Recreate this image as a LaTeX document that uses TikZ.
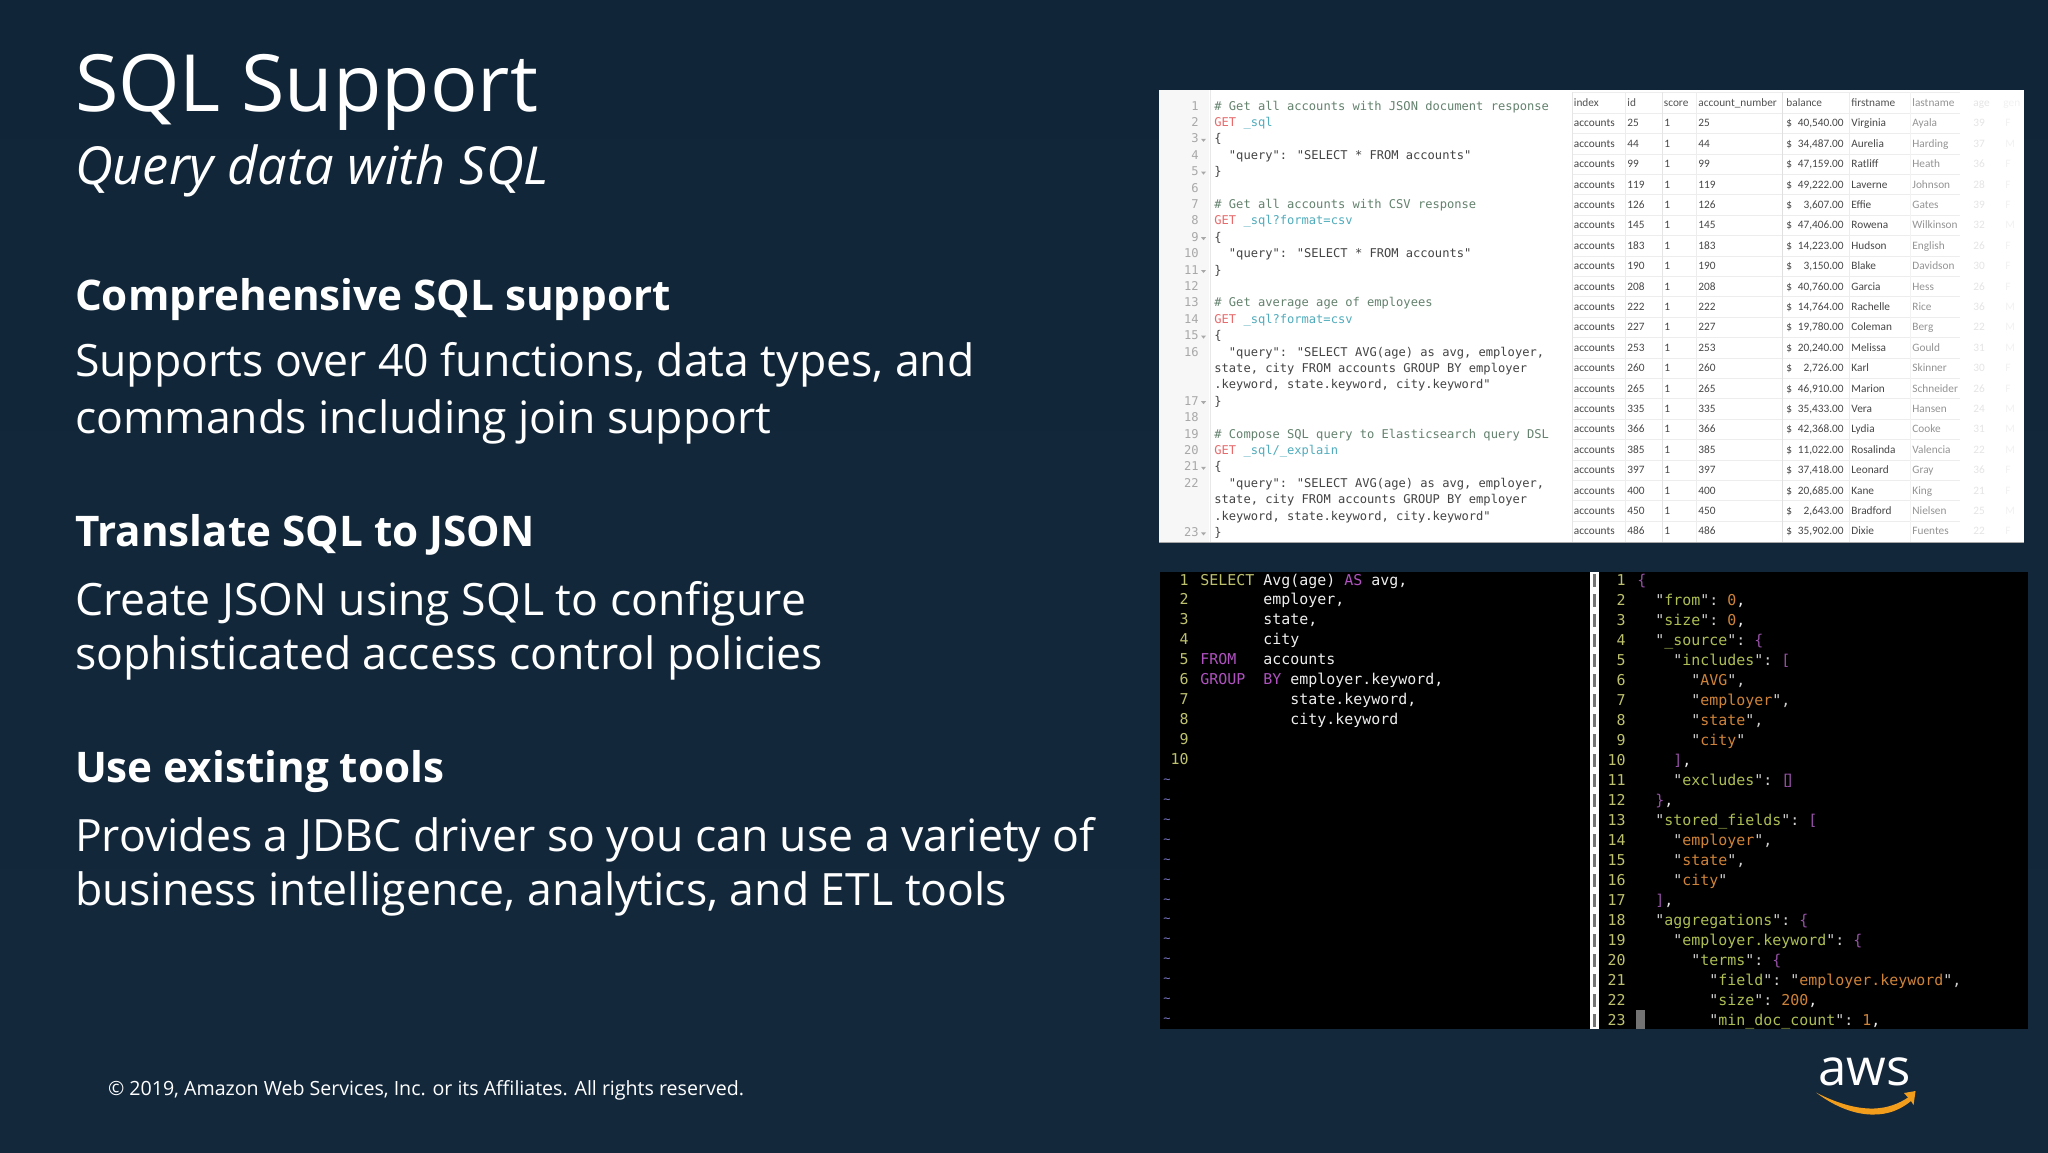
\documentclass[tikz,border=0pt]{standalone}
\usepackage{fontspec}
\setmainfont{Open Sans}
\newfontfamily\codefont{DejaVu Sans Mono}
\newfontfamily\tablefont{Carlito}
\definecolor{slidetop}{HTML}{102638}
\definecolor{slidebot}{HTML}{14283C}
\definecolor{lgcomment}{HTML}{64826E}
\definecolor{lgget}{HTML}{E86A6A}
\definecolor{lgurl}{HTML}{50ACBC}
\definecolor{lgtext}{HTML}{444444}
\definecolor{lgnum}{HTML}{A8A8A8}
\definecolor{dkyellow}{HTML}{BEC26E}
\definecolor{dkmag}{HTML}{B052C0}
\definecolor{dkwhite}{HTML}{EEEEEE}
\definecolor{dkkey}{HTML}{AEBE54}
\definecolor{dkval}{HTML}{CF8338}
\definecolor{dkbrace}{HTML}{9450A4}
\definecolor{dkquote}{HTML}{D0D0D0}
\definecolor{dktilde}{HTML}{7A78C8}
\definecolor{awsorange}{HTML}{F29D1C}
\newcounter{tn}
\newcommand\lgc[4]{\stepcounter{tn}\node[lightcode,text=#1] (lc\arabic{tn}) at ({1214+#2*7.27},{110+(#3-1)*16.4}) {#4};}
\newcommand\lgn[2]{\stepcounter{tn}\node[lightnum] (ln\arabic{tn}) at (1199,{110+(#1-1)*16.4}) {#2};}
\newcommand\lgf[1]{\fill[lgnum] (1201,{106+(#1-1)*16.4}) -- (1206,{106+(#1-1)*16.4}) -- (1203.5,{109+(#1-1)*16.4}) -- cycle;}
\newcommand\dkc[4]{\stepcounter{tn}\node[darkcode,text=#1] (dc\arabic{tn}) at ({1200+#2*9},{585+(#3-1)*19.95}) {#4};}
\newcommand\jsc[4]{\stepcounter{tn}\node[darkcode,text=#1] (jc\arabic{tn}) at ({1637+#2*9},{585+(#3-1)*20}) {#4};}
\begin{document}
\begin{tikzpicture}[x=0.5pt,y=-0.5pt,
  txt/.style={anchor=base west,inner sep=0pt,outer sep=0pt,text=white},
  titletxt/.style={txt,font=\fontsize{39.5}{40}\selectfont},
  subtxt/.style={txt,font=\fontsize{26.2}{27}\selectfont\itshape},
  headtxt/.style={txt,font=\fontsize{21.1}{22}\selectfont\bfseries},
  bodytxt/.style={txt,font=\fontsize{22.28}{23}\selectfont},
  foottxt/.style={txt,font=\fontsize{9.8}{11}\selectfont},
  lightcode/.style={anchor=base west,inner sep=0pt,font=\codefont\fontsize{6.04}{7}\selectfont},
  lightnum/.style={anchor=base east,inner sep=0pt,text=lgnum,font=\codefont\fontsize{6.04}{7}\selectfont},
  darkcode/.style={anchor=base west,inner sep=0pt,font=\codefont\fontsize{7.47}{8}\selectfont},
  darknum/.style={anchor=base east,inner sep=0pt,text=dkyellow,font=\codefont\fontsize{7.47}{8}\selectfont},
  celltxt/.style={anchor=base west,inner sep=0pt,font=\tablefont\fontsize{5.65}{6}\selectfont},
  cellnum/.style={celltxt,anchor=base east}]
\useasboundingbox (0,0) rectangle (2048,1152);
\shade[top color=slidetop,bottom color=slidebot] (-6,-6) rectangle (2054,1158);
% left column
\node[titletxt] (title) at (75,111) {SQL Support};
\node[subtxt] (subtitle) at (75,184) {Query data with SQL};
\node[headtxt] (h1) at (75,310) {Comprehensive SQL support};
\node[bodytxt] (b1a) at (75,376) {Supports over 40 functions, data types, and};
\node[bodytxt] (b1b) at (75,433) {commands including join support};
\node[headtxt] (h2) at (75,546) {Translate SQL to JSON};
\node[bodytxt] (b2a) at (75,615) {Create JSON using SQL to configure};
\node[bodytxt] (b2b) at (75,669) {sophisticated access control policies};
\node[headtxt] (h3) at (75,782) {Use existing tools};
\node[bodytxt] (b3a) at (75,851) {Provides a JDBC driver so you can use a variety of};
\node[bodytxt] (b3b) at (75,905) {business intelligence, analytics, and ETL tools};
\node[foottxt] (foot) at (108,1095) {© 2019, Amazon Web Services, Inc. or its Affiliates. All rights reserved.};
% logo
\node[txt,font=\fontsize{25.5}{27}\selectfont] (aws) at (1818,1085) {aws};
\fill[awsorange] (1816,1092.5) .. controls (1838,1104) and (1858,1109) .. (1874,1108.5) .. controls (1888,1108) and (1899,1103.5) .. (1908,1097.5) -- (1904,1093) -- (1915.5,1091) -- (1913.5,1105) -- (1911,1101) .. controls (1900,1110) and (1888,1114.5) .. (1874,1114.5) .. controls (1856,1115) and (1835,1107) .. (1816,1092.5) -- cycle;
% top panel
\fill[white] (1159,90) rectangle (2024,542);
\fill[black!3] (1159,90) rectangle (1209,542);
\draw[black!9,line width=0.4pt] (1210,90) -- (1210,542);
\draw[black!35,line width=0.4pt] (1159,542) -- (2024,542);
\foreach \n in {1,...,16} {\lgn{\n}{\n}}
\lgn{19}{17}\lgn{20}{18}\lgn{21}{19}\lgn{22}{20}\lgn{23}{21}\lgn{24}{22}\lgn{27}{23}
\foreach \n in {3,5,9,11,15,19,23,27} {\lgf{\n}}
\lgc{lgcomment}{0}{1}{\# Get all accounts with JSON document response}
\lgc{lgget}{0}{2}{GET}\lgc{lgurl}{4}{2}{\_sql}
\lgc{lgtext}{0}{3}{\{}
\lgc{lgtext}{2}{4}{"query": "SELECT * FROM accounts"}
\lgc{lgtext}{0}{5}{\}}
\lgc{lgcomment}{0}{7}{\# Get all accounts with CSV response}
\lgc{lgget}{0}{8}{GET}\lgc{lgurl}{4}{8}{\_sql?format=csv}
\lgc{lgtext}{0}{9}{\{}
\lgc{lgtext}{2}{10}{"query": "SELECT * FROM accounts"}
\lgc{lgtext}{0}{11}{\}}
\lgc{lgcomment}{0}{13}{\# Get average age of employees}
\lgc{lgget}{0}{14}{GET}\lgc{lgurl}{4}{14}{\_sql?format=csv}
\lgc{lgtext}{0}{15}{\{}
\lgc{lgtext}{2}{16}{"query": "SELECT AVG(age) as avg, employer,}
\lgc{lgtext}{0}{17}{state, city FROM accounts GROUP BY employer}
\lgc{lgtext}{0}{18}{.keyword, state.keyword, city.keyword"}
\lgc{lgtext}{0}{19}{\}}
\lgc{lgcomment}{0}{21}{\# Compose SQL query to Elasticsearch query DSL}
\lgc{lgget}{0}{22}{GET}\lgc{lgurl}{4}{22}{\_sql/\_explain}
\lgc{lgtext}{0}{23}{\{}
\lgc{lgtext}{2}{24}{"query": "SELECT AVG(age) as avg, employer,}
\lgc{lgtext}{0}{25}{state, city FROM accounts GROUP BY employer}
\lgc{lgtext}{0}{26}{.keyword, state.keyword, city.keyword"}
\lgc{lgtext}{0}{27}{\}}
% table grid
\foreach \n in {0,...,21} {\draw[black!7,line width=0.4pt] (1572,{92.8+\n*20.4}) -- (1960,{92.8+\n*20.4});}
\foreach \x/\s in {1572/10,1625/7,1662/10,1696/7,1782/12,1849/7,1910/5} {\draw[black!\s,line width=0.4pt] (\x,92) -- (\x,542);}
% table header
\node[celltxt,text=black!68] (th1) at (1573.5,106.5) {index};
\node[celltxt,text=black!68] (th2) at (1627,106.5) {id};
\node[celltxt,text=black!68] (th3) at (1663.5,106.5) {score};
\node[celltxt,text=black!68] (th4) at (1698,106.5) {account\_number};
\node[celltxt,text=black!68] (th5) at (1786,106.5) {balance};
\node[celltxt,text=black!68] (th6) at (1851,106.5) {firstname};
\node[celltxt,text=black!42] (th7) at (1912,106.5) {lastname};
\node[celltxt,text=black!10] (th8) at (1973,106.5) {age};
\node[celltxt,text=black!5] (th9) at (2003,106.5) {gen};
% table rows
\foreach \i/\b/\f/\l/\a/\g [count=\n] in {
 25/{40,540.00}/Virginia/Ayala/39/F,
 44/{34,487.00}/Aurelia/Harding/37/M,
 99/{47,159.00}/Ratliff/Heath/36/F,
 119/{49,222.00}/Laverne/Johnson/28/F,
 126/{3,607.00}/Effie/Gates/39/F,
 145/{47,406.00}/Rowena/Wilkinson/32/M,
 183/{14,223.00}/Hudson/English/26/F,
 190/{3,150.00}/Blake/Davidson/30/F,
 208/{40,760.00}/Garcia/Hess/26/F,
 222/{14,764.00}/Rachelle/Rice/36/M,
 227/{19,780.00}/Coleman/Berg/22/M,
 253/{20,240.00}/Melissa/Gould/31/M,
 260/{2,726.00}/Karl/Skinner/30/F,
 265/{46,910.00}/Marion/Schneider/26/F,
 335/{35,433.00}/Vera/Hansen/24/M,
 366/{42,368.00}/Lydia/Cooke/31/M,
 385/{11,022.00}/Rosalinda/Valencia/22/M,
 397/{37,418.00}/Leonard/Gray/36/F,
 400/{20,685.00}/Kane/King/21/F,
 450/{2,643.00}/Bradford/Nielsen/25/M,
 486/{35,902.00}/Dixie/Fuentes/22/F} {
  \pgfmathsetmacro{\yy}{106.5+\n*20.4}
  \node[celltxt,text=black!72] (ca\n) at (1573.5,\yy) {accounts};
  \node[celltxt,text=black!72] (cb\n) at (1627,\yy) {\i};
  \node[celltxt,text=black!72] (cc\n) at (1664,\yy) {1};
  \node[celltxt,text=black!72] (cd\n) at (1698,\yy) {\i};
  \node[celltxt,text=black!72] (ce\n) at (1786,\yy) {\$};
  \node[cellnum,text=black!72] (cf\n) at (1844,\yy) {\b};
  \node[celltxt,text=black!72] (cg\n) at (1851,\yy) {\f};
  \node[celltxt,text=black!42] (ch\n) at (1912,\yy) {\l};
  \node[celltxt,text=black!10] (ci\n) at (1973,\yy) {\a};
  \node[celltxt,text=black!5] (cj\n) at (2005,\yy) {\g};
}
% bottom panel
\fill[black] (1160,572) rectangle (2028,1029);
\fill[white] (1590,572) rectangle (1599,1029);
\foreach \n in {0,...,22} {\fill[black!55] (1592.8,{574+\n*20}) rectangle (1595.6,{587+\n*20});}
\foreach \n in {1,...,10} {\node[darknum] (dn\n) at (1189,{585+(\n-1)*19.95}) {\n};}
\foreach \n in {11,...,23} {\node[anchor=center,inner sep=0pt,text=dktilde,font=\codefont\fontsize{6}{7}\selectfont] (tl\n) at (1167,{781+(\n-11)*19.95}) {\char`\~};}
\dkc{dkyellow}{0}{1}{SELECT}\dkc{dkwhite}{7}{1}{Avg(age)}\dkc{dkmag}{16}{1}{AS}\dkc{dkwhite}{19}{1}{avg,}
\dkc{dkwhite}{7}{2}{employer,}
\dkc{dkwhite}{7}{3}{state,}
\dkc{dkwhite}{7}{4}{city}
\dkc{dkmag}{0}{5}{FROM}\dkc{dkwhite}{7}{5}{accounts}
\dkc{dkmag}{0}{6}{GROUP}\dkc{dkmag}{7}{6}{BY}\dkc{dkwhite}{10}{6}{employer.keyword,}
\dkc{dkwhite}{10}{7}{state.keyword,}
\dkc{dkwhite}{10}{8}{city.keyword}
\foreach \n in {1,...,23} {\node[darknum] (jn\n) at (1626,{585+(\n-1)*20}) {\n};}
\jsc{dkbrace}{0}{1}{\{}
\jsc{dkquote}{2}{2}{"}\jsc{dkkey}{3}{2}{from}\jsc{dkquote}{7}{2}{":}\jsc{dkval}{10}{2}{0}\jsc{dkwhite}{11}{2}{,}
\jsc{dkquote}{2}{3}{"}\jsc{dkkey}{3}{3}{size}\jsc{dkquote}{7}{3}{":}\jsc{dkval}{10}{3}{0}\jsc{dkwhite}{11}{3}{,}
\jsc{dkquote}{2}{4}{"}\jsc{dkkey}{3}{4}{\_source}\jsc{dkquote}{10}{4}{":}\jsc{dkbrace}{13}{4}{\{}
\jsc{dkquote}{4}{5}{"}\jsc{dkkey}{5}{5}{includes}\jsc{dkquote}{13}{5}{":}\jsc{dkbrace}{16}{5}{[}
\jsc{dkquote}{6}{6}{"}\jsc{dkval}{7}{6}{AVG}\jsc{dkquote}{10}{6}{",}
\jsc{dkquote}{6}{7}{"}\jsc{dkval}{7}{7}{employer}\jsc{dkquote}{15}{7}{",}
\jsc{dkquote}{6}{8}{"}\jsc{dkval}{7}{8}{state}\jsc{dkquote}{12}{8}{",}
\jsc{dkquote}{6}{9}{"}\jsc{dkval}{7}{9}{city}\jsc{dkquote}{11}{9}{"}
\jsc{dkbrace}{4}{10}{]}\jsc{dkwhite}{5}{10}{,}
\jsc{dkquote}{4}{11}{"}\jsc{dkkey}{5}{11}{excludes}\jsc{dkquote}{13}{11}{":}\jsc{dkbrace}{16}{11}{[}\jsc{dkbrace}{16.45}{11}{]}
\jsc{dkbrace}{2}{12}{\}}\jsc{dkwhite}{3}{12}{,}
\jsc{dkquote}{2}{13}{"}\jsc{dkkey}{3}{13}{stored\_fields}\jsc{dkquote}{16}{13}{":}\jsc{dkbrace}{19}{13}{[}
\jsc{dkquote}{4}{14}{"}\jsc{dkval}{5}{14}{employer}\jsc{dkquote}{13}{14}{",}
\jsc{dkquote}{4}{15}{"}\jsc{dkval}{5}{15}{state}\jsc{dkquote}{10}{15}{",}
\jsc{dkquote}{4}{16}{"}\jsc{dkval}{5}{16}{city}\jsc{dkquote}{9}{16}{"}
\jsc{dkbrace}{2}{17}{]}\jsc{dkwhite}{3}{17}{,}
\jsc{dkquote}{2}{18}{"}\jsc{dkkey}{3}{18}{aggregations}\jsc{dkquote}{15}{18}{":}\jsc{dkbrace}{18}{18}{\{}
\jsc{dkquote}{4}{19}{"}\jsc{dkkey}{5}{19}{employer.keyword}\jsc{dkquote}{21}{19}{":}\jsc{dkbrace}{24}{19}{\{}
\jsc{dkquote}{6}{20}{"}\jsc{dkkey}{7}{20}{terms}\jsc{dkquote}{12}{20}{":}\jsc{dkbrace}{15}{20}{\{}
\jsc{dkquote}{8}{21}{"}\jsc{dkkey}{9}{21}{field}\jsc{dkquote}{14}{21}{":}\jsc{dkquote}{17}{21}{"}\jsc{dkval}{18}{21}{employer.keyword}\jsc{dkquote}{34}{21}{",}
\jsc{dkquote}{8}{22}{"}\jsc{dkkey}{9}{22}{size}\jsc{dkquote}{13}{22}{":}\jsc{dkval}{16}{22}{200}\jsc{dkwhite}{19}{22}{,}
\jsc{dkquote}{8}{23}{"}\jsc{dkkey}{9}{23}{min\_doc\_count}\jsc{dkquote}{22}{23}{":}\jsc{dkval}{25}{23}{1}\jsc{dkwhite}{26}{23}{,}
\fill[black!55] (1635.5,1010) rectangle (1645,1029);
\end{tikzpicture}
\end{document}
